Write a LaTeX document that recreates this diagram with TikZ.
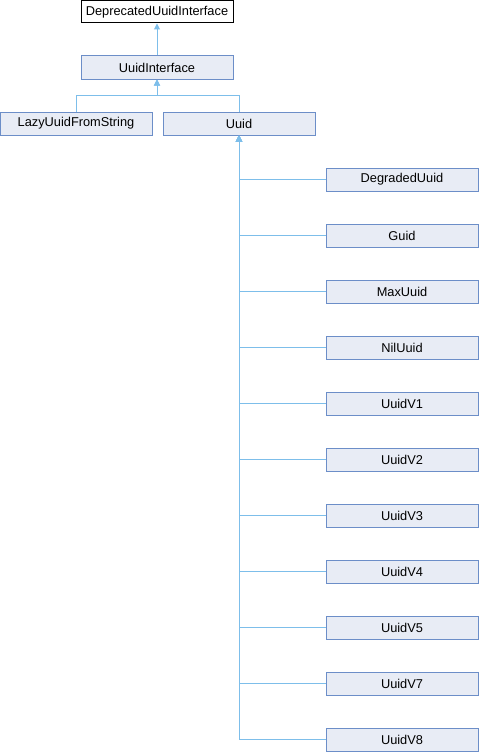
\documentclass[tikz,border=0pt]{standalone}
\usepackage{fontspec}
\setmainfont{Liberation Sans}
\usepackage{xcolor}
\definecolor{boxfill}{HTML}{E8ECF5}
\definecolor{boxline}{HTML}{6C8EC8}
\definecolor{edgeblue}{HTML}{7DBEEA}
\usetikzlibrary{arrows.meta}

\begin{document}
\begin{tikzpicture}[x=1pt, y=-1pt,
		cls/.style={draw=boxline, fill=boxfill, line width=1pt, minimum width=152pt, minimum height=23pt, inner sep=0pt, font=\fontsize{12.8}{14}\selectfont},
		iftop/.style={cls, draw=black, fill=white, minimum height=22pt},
		inh/.style={draw=edgeblue, line width=1pt, -{Triangle[length=6pt, width=6pt]}}]
			\useasboundingbox (0,0) rectangle (479,752);

			% Interfaces at the top
			\node[iftop] (depr) at (157,12) {DeprecatedUuidInterface};
			\node[cls] (iface) at (157,67.5) {UuidInterface};

			% Direct implementations
			\node[cls] (lazy) at (76,123.5) {LazyUuidFromString};
			\node[cls] (uuid) at (239,123.5) {Uuid};

			% Draw inheritance
			\draw[inh] (iface) -- (depr);
			\draw[inh] (lazy.north) -- ++(0,-16) -| (iface.south);
			\draw[inh] (uuid.north) -- ++(0,-16) -| (iface.south);

			% Subclasses of Uuid on the right
			\foreach \name [count=\i from 0] in {DegradedUuid,Guid,MaxUuid,NilUuid,UuidV1,UuidV2,UuidV3,UuidV4,UuidV5,UuidV7,UuidV8}
			{
			\node[cls] (sub\i) at (402,179.5+56*\i) {\name};
			\draw[inh] (sub\i.west) -| (uuid.south);
			}
		\end{tikzpicture}
\end{document}
